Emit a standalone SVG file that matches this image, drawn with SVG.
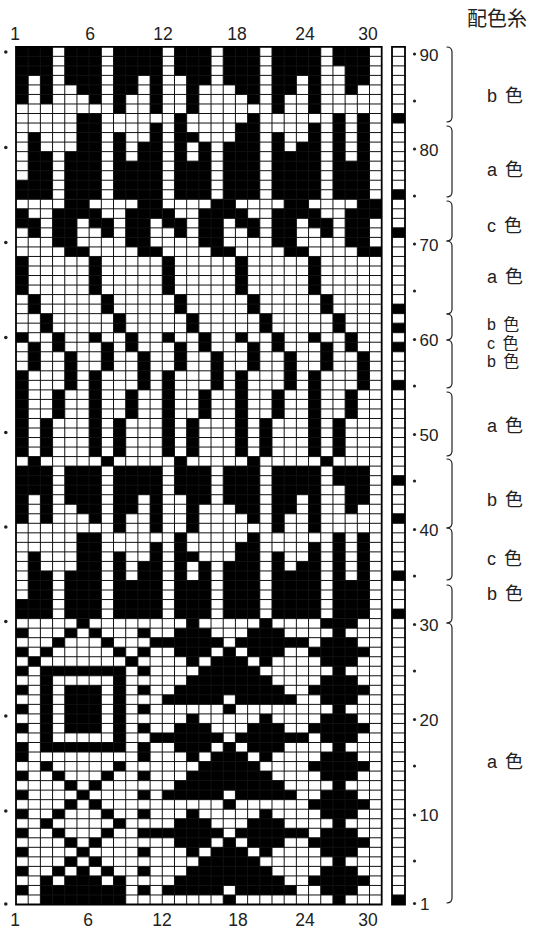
<svg xmlns="http://www.w3.org/2000/svg" width="544" height="930" viewBox="0 0 544 930">
<style>
.cell{fill:#000}
.grid{fill:none;stroke:#111;stroke-width:1}
.frame{fill:none;stroke:#000;stroke-width:1.8}
.num{font-family:"Liberation Sans",Arial,sans-serif;font-size:17.5px;fill:#222}
.rnum{font-family:"Liberation Sans",Arial,sans-serif;font-size:17px;fill:#222}
.lbl{font-family:"Liberation Sans","Noto Sans CJK JP",sans-serif;font-size:18px;fill:#222;word-spacing:3px}
.sm{font-size:16px}
.dot{fill:#222}
.brace{fill:none;stroke:#222;stroke-width:1.2}
</style>
<defs>
<path id="mA" d="M0 0h3v2h-3zM4 0h3v2h-3zM8 0h4v2h-4zM13 0h3v2h-3zM17 0h3v2h-3zM21 0h4v2h-4zM26 0h3v2h-3z
M0 2h3v1h-3zM4 2h3v1h-3zM8 2h4v1h-4zM13 2h3v1h-3zM17 2h3v1h-3zM21 2h4v1h-4zM27 2h2v1h-2z
M0 3h1v1h-1zM2 3h1v1h-1zM4 3h3v1h-3zM8 3h2v1h-2zM11 3h1v1h-1zM14 3h2v1h-2zM17 3h3v1h-3zM21 3h2v1h-2zM24 3h1v1h-1zM27 3h2v1h-2z
M0 4h1v1h-1zM2 4h1v1h-1zM5 4h2v1h-2zM8 4h2v1h-2zM11 4h1v1h-1zM14 4h1v1h-1zM18 4h2v1h-2zM21 4h2v1h-2zM24 4h1v1h-1zM27 4h1v1h-1z
M0 5h1v1h-1zM2 5h1v1h-1zM6 5h1v1h-1zM8 5h1v1h-1zM11 5h1v1h-1zM14 5h1v1h-1zM19 5h1v1h-1zM21 5h1v1h-1zM24 5h1v1h-1z
M8 6h1v1h-1zM11 6h1v1h-1zM14 6h1v1h-1zM21 6h1v1h-1zM24 6h1v1h-1z
M5 7h2v1h-2zM13 7h1v1h-1zM19 7h1v1h-1zM26 7h1v1h-1zM28 7h1v1h-1z
M5 8h2v1h-2zM11 8h1v1h-1zM13 8h1v1h-1zM18 8h2v1h-2zM24 8h1v1h-1zM26 8h1v1h-1zM28 8h1v1h-1z
M1 9h1v1h-1zM5 9h2v1h-2zM8 9h1v1h-1zM11 9h1v1h-1zM13 9h2v1h-2zM18 9h2v1h-2zM21 9h1v1h-1zM24 9h1v1h-1zM26 9h1v1h-1zM28 9h1v1h-1z
M1 10h1v1h-1zM5 10h2v1h-2zM8 10h1v1h-1zM10 10h2v1h-2zM13 10h1v1h-1zM15 10h1v1h-1zM17 10h3v1h-3zM21 10h1v1h-1zM23 10h2v1h-2zM26 10h1v1h-1zM28 10h1v1h-1z
M1 11h2v1h-2zM4 11h3v1h-3zM8 11h1v1h-1zM10 11h2v1h-2zM13 11h1v1h-1zM15 11h1v1h-1zM17 11h3v1h-3zM21 11h4v1h-4zM26 11h1v1h-1zM28 11h1v1h-1z
M1 12h2v2h-2zM4 12h3v2h-3zM8 12h4v2h-4zM13 12h3v2h-3zM17 12h3v2h-3zM21 12h4v2h-4zM26 12h3v2h-3z
M0 14h3v2h-3zM4 14h3v2h-3zM8 14h4v2h-4zM13 14h3v2h-3zM17 14h3v2h-3zM21 14h4v2h-4zM26 14h3v2h-3z"/>
<path id="p6" d="M4 16h2v1h-2zM0 17h1v1h-1zM3 17h3v1h-3zM0 18h2v1h-2zM3 18h2v1h-2zM1 19h1v1h-1zM3 19h2v1h-2zM3 20h2v1h-2zM4 21h2v1h-2zM0 22h1v4h-1zM1 26h1v2h-1zM2 28h1v2h-1zM0 30h1v1h-1zM3 30h1v2h-1zM1 31h1v3h-1zM4 32h1v4h-1zM0 34h1v9h-1zM3 36h1v3h-1zM2 39h1v4h-1zM1 43h1v1h-1z"/>
<path id="mid" d="M14 0h1v1h-1zM20 0h1v1h-1zM13 1h3v1h-3zM19 1h3v1h-3zM11 2h6v1h-6zM18 2h6v1h-6zM13 3h3v1h-3zM17 3h1v1h-1zM19 3h3v1h-3zM14 4h1v1h-1zM16 4h3v1h-3zM20 4h1v1h-1zM15 5h5v1h-5zM14 6h7v1h-7zM13 7h9v1h-9zM12 8h5v1h-5zM18 8h5v1h-5zM17 9h1v1h-1z"/>
</defs>
<rect width="544" height="930" fill="#fff"/>
<g id="chart" transform="translate(16 46.8) scale(12.19 9.53)">
<rect x="0" y="0" width="30" height="90" fill="#fff"/>
<g id="cells" class="cell">
<use href="#mA"/>
<use href="#mA" y="44"/>
<use href="#p6" x="0"/>
<use href="#p6" x="6"/>
<use href="#p6" x="12"/>
<use href="#p6" x="18"/>
<use href="#p6" x="24"/>
<path id="left-panel" d="M0 61h1v1h-1zM10 61h1v1h-1zM0 63h1v1h-1zM10 63h1v1h-1zM0 65h1v1h-1zM10 65h1v1h-1zM0 67h1v1h-1zM10 67h1v1h-1zM0 69h1v1h-1zM10 69h1v1h-1zM0 71h1v1h-1zM10 71h1v1h-1zM0 73h1v2h-1zM10 73h1v2h-1zM0 76h1v1h-1zM10 76h1v1h-1zM0 78h1v1h-1zM10 78h1v1h-1zM0 80h1v1h-1zM10 80h1v1h-1zM0 82h1v1h-1zM10 82h1v1h-1zM0 84h1v1h-1zM10 84h1v1h-1zM0 86h1v1h-1zM10 86h1v1h-1zM0 88h1v1h-1zM10 88h1v1h-1z
M5 60h1v1h-1zM4 61h1v1h-1zM6 61h1v1h-1zM3 62h1v1h-1zM7 62h1v1h-1zM2 63h1v1h-1zM8 63h1v1h-1zM1 64h1v1h-1zM9 64h1v1h-1z
M2 65h7v1h-7zM2 66h1v7h-1zM8 66h1v7h-1zM4 67h3v5h-3zM2 73h7v1h-7z
M2 75h1v1h-1zM8 75h1v1h-1zM3 76h1v1h-1zM7 76h1v1h-1zM4 77h1v1h-1zM6 77h1v1h-1zM5 78h1v1h-1zM4 79h1v1h-1zM6 79h1v1h-1zM3 80h1v1h-1zM7 80h1v1h-1zM2 81h1v1h-1zM8 81h1v1h-1zM3 82h1v1h-1zM7 82h1v1h-1zM4 83h1v1h-1zM6 83h1v1h-1zM5 84h1v1h-1zM4 85h1v1h-1zM6 85h1v1h-1zM3 86h1v1h-1zM5 86h1v1h-1zM7 86h1v1h-1zM2 87h1v1h-1zM4 87h3v1h-3zM8 87h1v1h-1zM2 88h7v2h-7z"/>
<use href="#mid" y="60"/>
<use href="#mid" y="70"/>
<use href="#mid" y="80"/>
<path id="right-panel" d="M26 60h1v30h-1zM25 60h1v1h-1zM27 60h1v1h-1zM25 62h1v3h-1zM27 62h1v3h-1zM25 66h1v3h-1zM27 66h1v3h-1zM25 70h1v3h-1zM27 70h1v3h-1zM25 74h1v3h-1zM27 74h1v3h-1zM25 78h1v3h-1zM27 78h1v3h-1zM25 82h1v3h-1zM27 82h1v3h-1zM25 86h1v3h-1zM27 86h1v3h-1zM24 63h1v1h-1zM28 63h1v1h-1zM24 67h1v1h-1zM28 67h1v1h-1zM24 71h1v1h-1zM28 71h1v1h-1zM24 75h1v1h-1zM28 75h1v1h-1zM24 79h1v1h-1zM28 79h1v1h-1zM24 83h1v1h-1zM28 83h1v1h-1zM24 87h1v1h-1zM28 87h1v1h-1z"/>
</g>
<path class="grid" vector-effect="non-scaling-stroke" d="M1 0V90M2 0V90M3 0V90M4 0V90M5 0V90M6 0V90M7 0V90M8 0V90M9 0V90M10 0V90M11 0V90M12 0V90M13 0V90M14 0V90M15 0V90M16 0V90M17 0V90M18 0V90M19 0V90M20 0V90M21 0V90M22 0V90M23 0V90M24 0V90M25 0V90M26 0V90M27 0V90M28 0V90M29 0V90
M0 1H30M0 2H30M0 3H30M0 4H30M0 5H30M0 6H30M0 7H30M0 8H30M0 9H30M0 10H30M0 11H30M0 12H30M0 13H30M0 14H30M0 15H30M0 16H30M0 17H30M0 18H30M0 19H30M0 20H30M0 21H30M0 22H30M0 23H30M0 24H30M0 25H30M0 26H30M0 27H30M0 28H30M0 29H30M0 30H30M0 31H30M0 32H30M0 33H30M0 34H30M0 35H30M0 36H30M0 37H30M0 38H30M0 39H30M0 40H30M0 41H30M0 42H30M0 43H30M0 44H30M0 45H30M0 46H30M0 47H30M0 48H30M0 49H30M0 50H30M0 51H30M0 52H30M0 53H30M0 54H30M0 55H30M0 56H30M0 57H30M0 58H30M0 59H30M0 60H30M0 61H30M0 62H30M0 63H30M0 64H30M0 65H30M0 66H30M0 67H30M0 68H30M0 69H30M0 70H30M0 71H30M0 72H30M0 73H30M0 74H30M0 75H30M0 76H30M0 77H30M0 78H30M0 79H30M0 80H30M0 81H30M0 82H30M0 83H30M0 84H30M0 85H30M0 86H30M0 87H30M0 88H30M0 89H30"/>
<rect class="frame" vector-effect="non-scaling-stroke" x="0" y="0" width="30" height="90"/>
</g>
<g id="color-column" transform="translate(392 46.8) scale(13 9.53)">
<rect x="0" y="0" width="1" height="90" fill="#fff"/>
<path class="cell" d="M0 7h1v1h-1zM0 15h1v1h-1zM0 19h1v1h-1zM0 27h1v1h-1zM0 29h1v1h-1zM0 31h1v1h-1zM0 35h1v1h-1zM0 45h1v1h-1zM0 49h1v1h-1zM0 55h1v1h-1zM0 59h1v1h-1zM0 89h1v1h-1z"/>
<path class="grid" vector-effect="non-scaling-stroke" d="M0 1H1M0 2H1M0 3H1M0 4H1M0 5H1M0 6H1M0 7H1M0 8H1M0 9H1M0 10H1M0 11H1M0 12H1M0 13H1M0 14H1M0 15H1M0 16H1M0 17H1M0 18H1M0 19H1M0 20H1M0 21H1M0 22H1M0 23H1M0 24H1M0 25H1M0 26H1M0 27H1M0 28H1M0 29H1M0 30H1M0 31H1M0 32H1M0 33H1M0 34H1M0 35H1M0 36H1M0 37H1M0 38H1M0 39H1M0 40H1M0 41H1M0 42H1M0 43H1M0 44H1M0 45H1M0 46H1M0 47H1M0 48H1M0 49H1M0 50H1M0 51H1M0 52H1M0 53H1M0 54H1M0 55H1M0 56H1M0 57H1M0 58H1M0 59H1M0 60H1M0 61H1M0 62H1M0 63H1M0 64H1M0 65H1M0 66H1M0 67H1M0 68H1M0 69H1M0 70H1M0 71H1M0 72H1M0 73H1M0 74H1M0 75H1M0 76H1M0 77H1M0 78H1M0 79H1M0 80H1M0 81H1M0 82H1M0 83H1M0 84H1M0 85H1M0 86H1M0 87H1M0 88H1M0 89H1"/>
<rect class="frame" vector-effect="non-scaling-stroke" x="0" y="0" width="1" height="90"/>
</g>
<g id="top-scale" class="num" text-anchor="middle">
<text x="15" y="40">1</text><text x="90" y="40">6</text><text x="163" y="40">12</text><text x="237" y="40">18</text><text x="305" y="40">24</text><text x="368" y="40">30</text>
</g>
<g id="bottom-scale" class="num" text-anchor="middle">
<text x="15" y="926">1</text><text x="88" y="926">6</text><text x="162" y="926">12</text><text x="238" y="926">18</text><text x="305" y="926">24</text><text x="368" y="926">30</text>
</g>
<g id="left-dots" class="dot">
<circle cx="5.8" cy="52" r="1.8"/><circle cx="5.8" cy="147.5" r="1.8"/><circle cx="5.8" cy="242.5" r="1.8"/><circle cx="5.8" cy="337.5" r="1.8"/><circle cx="5.8" cy="432.5" r="1.8"/><circle cx="5.8" cy="527" r="1.8"/><circle cx="5.8" cy="621.5" r="1.8"/><circle cx="5.8" cy="716" r="1.8"/><circle cx="5.8" cy="811" r="1.8"/><circle cx="5.8" cy="904" r="1.8"/>
</g>
<g id="right-scale">
<g class="dot">
<circle cx="414.5" cy="54" r="1.6"/><circle cx="414.5" cy="101" r="1.6"/><circle cx="414.5" cy="149" r="1.6"/><circle cx="414.5" cy="196" r="1.6"/><circle cx="414.5" cy="244" r="1.6"/><circle cx="414.5" cy="291" r="1.6"/><circle cx="414.5" cy="339.5" r="1.6"/><circle cx="414.5" cy="386" r="1.6"/><circle cx="414.5" cy="434.5" r="1.6"/><circle cx="414.5" cy="481" r="1.6"/><circle cx="414.5" cy="529.5" r="1.6"/><circle cx="414.5" cy="576" r="1.6"/><circle cx="414.5" cy="624.5" r="1.6"/><circle cx="414.5" cy="671" r="1.6"/><circle cx="414.5" cy="719.5" r="1.6"/><circle cx="414.5" cy="766" r="1.6"/><circle cx="414.5" cy="815" r="1.6"/><circle cx="414.5" cy="861" r="1.6"/><circle cx="414.5" cy="903.5" r="1.6"/>
</g>
<g class="rnum">
<text x="419.5" y="60.5">90</text><text x="419.5" y="155.5">80</text><text x="419.5" y="250.5">70</text><text x="419.5" y="346">60</text><text x="419.5" y="441">50</text><text x="419.5" y="536">40</text><text x="419.5" y="631">30</text><text x="419.5" y="726">20</text><text x="419.5" y="821">10</text><text x="420" y="910">1</text>
</g>
</g>
<g id="braces" class="brace">
<path d="M446.5 47Q452 47 452 52V117Q452 122 446.5 122"/>
<path d="M446.5 126Q452 126 452 131V192Q452 197 446.5 197"/>
<path d="M446.5 201Q452 201 452 206V236Q452 241 446.5 241"/>
<path d="M446.5 241Q452 241 452 246V309Q452 314 446.5 314"/>
<path d="M446.5 314Q452 314 452 319V335Q452 340 446.5 340"/>
<path d="M446.5 340Q452 340 452 345V383Q452 388 446.5 388"/>
<path d="M446.5 392Q452 392 452 397V451Q452 456 446.5 456"/>
<path d="M446.5 459Q452 459 452 464V523Q452 528 446.5 528"/>
<path d="M446.5 528Q452 528 452 533V575Q452 580 446.5 580"/>
<path d="M446.5 585Q452 585 452 590V618Q452 623 446.5 623"/>
<path d="M446.5 623Q452 623 452 628V898Q452 903 446.5 903"/>
</g>
<g id="labels" class="lbl">
<text x="467" y="26" style="font-size:20px">配色糸</text>
<text x="487" y="101.5">b 色</text>
<text x="487" y="176">a 色</text>
<text x="487" y="232">c 色</text>
<text x="487" y="283">a 色</text>
<text x="487" y="330" class="sm">b 色</text>
<text x="487" y="348.5" class="sm">c 色</text>
<text x="487" y="367" class="sm">b 色</text>
<text x="487" y="432">a 色</text>
<text x="487" y="506">b 色</text>
<text x="487" y="565">c 色</text>
<text x="487" y="600">b 色</text>
<text x="487" y="768">a 色</text>
</g>
</svg>
